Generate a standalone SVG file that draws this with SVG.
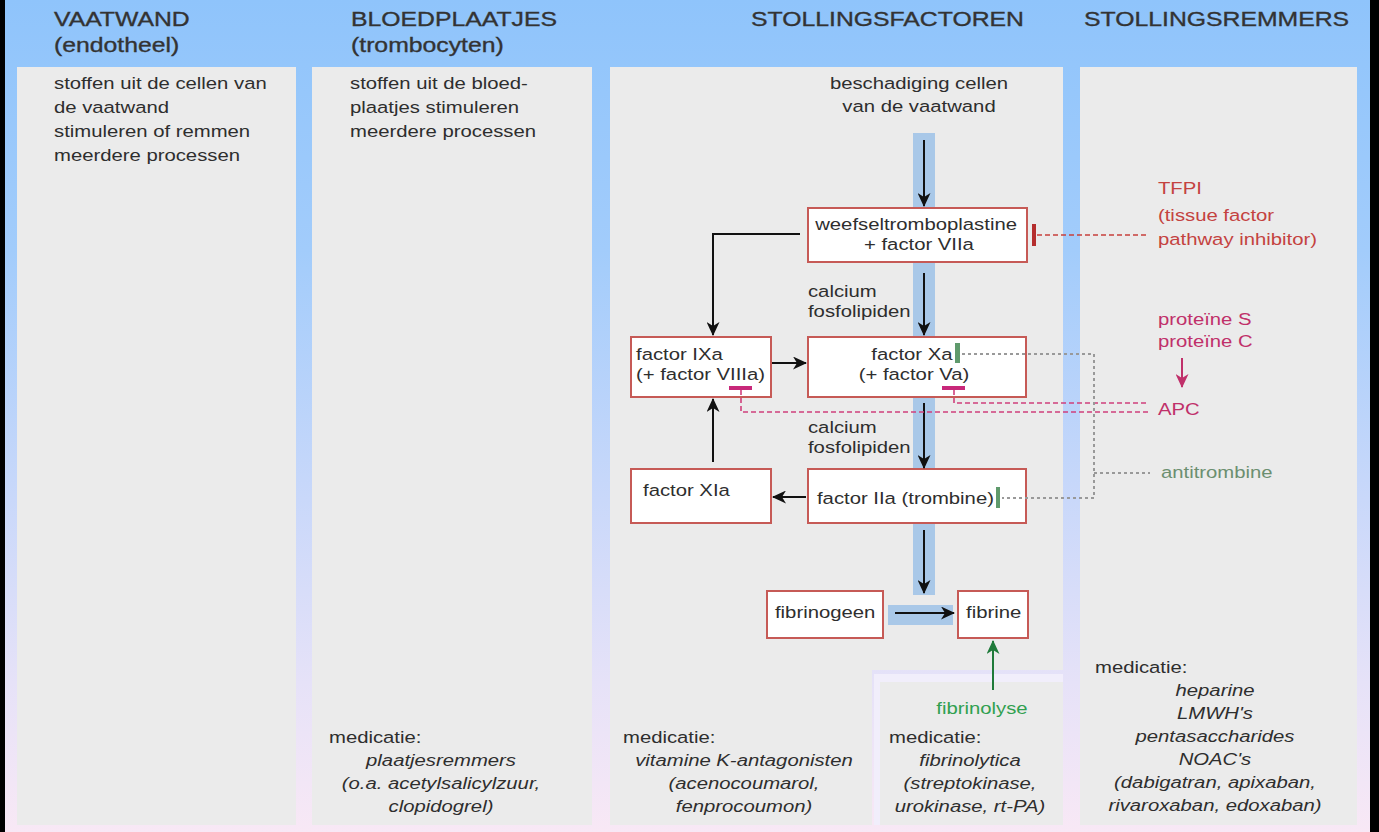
<svg xmlns="http://www.w3.org/2000/svg" width="1379" height="832" viewBox="0 0 1379 832">
<defs>
<linearGradient id="bg" x1="0" y1="0" x2="0" y2="832" gradientUnits="userSpaceOnUse">
<stop offset="0" stop-color="#8fc4fb"/>
<stop offset="0.3" stop-color="#a2ccfb"/>
<stop offset="0.6" stop-color="#c9d8fa"/>
<stop offset="0.82" stop-color="#e6e2f8"/>
<stop offset="1" stop-color="#f8e8f5"/>
</linearGradient>
<marker id="ah" viewBox="0 0 14 13" markerWidth="14" markerHeight="13" refX="13" refY="6.5" orient="auto" markerUnits="userSpaceOnUse">
<path d="M0,0 L14,6.5 L0,13 L4,6.5 Z" fill="#111"/>
</marker>
<marker id="ahg" viewBox="0 0 14 13" markerWidth="14" markerHeight="13" refX="13" refY="6.5" orient="auto" markerUnits="userSpaceOnUse">
<path d="M0,0 L14,6.5 L0,13 L4,6.5 Z" fill="#1f7a3a"/>
</marker>
<marker id="ahm" viewBox="0 0 14 13" markerWidth="14" markerHeight="13" refX="13" refY="6.5" orient="auto" markerUnits="userSpaceOnUse">
<path d="M0,0 L14,6.5 L0,13 L4,6.5 Z" fill="#c0306a"/>
</marker>
</defs>
<style>
.t{font-family:"Liberation Sans",Arial,Helvetica,sans-serif;font-size:17.2px;fill:#2e2e2e;transform-box:fill-box;transform:scaleX(1.18);transform-origin:0% 50%}
.m{text-anchor:middle;transform-origin:50% 50%}
.h{font-size:21px;fill:#333;stroke:#333;stroke-width:0.35px}
.i{font-style:italic}
.red{fill:#c4423f}
.mag{fill:#c0306a}
.grn{fill:#6c8f70}
.fib{fill:#30a050}
.panel{fill:#ebebeb}
.box{fill:#fff;stroke:#c65a56;stroke-width:2}
.strip{fill:#a9c8e8}
.arr{fill:none;stroke:#111;stroke-width:2;marker-end:url(#ah)}
.dred{fill:none;stroke:#c8403c;stroke-width:1.6;stroke-dasharray:5 3}
.dmag{fill:none;stroke:#d0407c;stroke-width:1.6;stroke-dasharray:5 3}
.dgry{fill:none;stroke:#999;stroke-width:2;stroke-dasharray:3 3}
</style>

<rect x="0" y="0" width="1379" height="832" fill="url(#bg)"/>
<rect x="0" y="0" width="5" height="832" fill="#000"/>
<rect x="1370" y="0" width="9" height="832" fill="#000"/>

<g id="panels">
<rect class="panel" x="17" y="67" width="279" height="758"/>
<rect class="panel" x="312" y="67" width="280" height="758"/>
<path class="panel" d="M610,67 H1063 V670 H872 V825 H610 Z"/>
<rect x="874" y="674" width="189" height="151" fill="#f1eefb"/>
<rect class="panel" x="880" y="682" width="183" height="143"/>
<rect class="panel" x="1080" y="67" width="277" height="758"/>
</g>

<g id="headers">
<text class="t h" x="54" y="26">VAATWAND</text>
<text class="t h" x="54" y="52">(endotheel)</text>
<text class="t h" x="351" y="26">BLOEDPLAATJES</text>
<text class="t h" x="351" y="52">(trombocyten)</text>
<text class="t h" x="751" y="26">STOLLINGSFACTOREN</text>
<text class="t h" x="1084" y="26">STOLLINGSREMMERS</text>
</g>

<g id="vaatwand-text">
<text class="t" x="54" y="89">stoffen uit de cellen van</text>
<text class="t" x="54" y="113">de vaatwand</text>
<text class="t" x="54" y="137">stimuleren of remmen</text>
<text class="t" x="54" y="161">meerdere processen</text>
</g>

<g id="bloedplaatjes-text">
<text class="t" x="350" y="89">stoffen uit de bloed-</text>
<text class="t" x="350" y="113">plaatjes stimuleren</text>
<text class="t" x="350" y="137">meerdere processen</text>
<text class="t" x="329" y="743">medicatie:</text>
<text class="t m i" x="441" y="766">plaatjesremmers</text>
<text class="t m i" x="441" y="789">(o.a. acetylsalicylzuur,</text>
<text class="t m i" x="441" y="812">clopidogrel)</text>
</g>

<g id="strips">
<rect class="strip" x="913" y="133" width="22" height="75"/>
<rect class="strip" x="913" y="262" width="22" height="75"/>
<rect class="strip" x="913" y="397" width="22" height="73"/>
<rect class="strip" x="913" y="523" width="22" height="72"/>
<rect class="strip" x="888" y="605" width="65" height="20"/>
</g>

<g id="start-text">
<text class="t m" x="919" y="89">beschadiging cellen</text>
<text class="t m" x="919" y="112">van de vaatwand</text>
</g>

<g id="node-weefsel">
<rect class="box" x="808" y="208" width="219" height="54"/>
<text class="t m" x="916" y="230">weefseltromboplastine</text>
<text class="t m" x="919" y="250">+ factor VIIa</text>
</g>
<g id="node-ixa">
<rect class="box" x="631" y="337" width="140" height="60"/>
<text class="t" x="636" y="360">factor IXa</text>
<text class="t" x="636" y="380">(+ factor VIIIa)</text>
</g>
<g id="node-xa">
<rect class="box" x="808" y="337" width="218" height="60"/>
<text class="t m" x="912" y="360">factor Xa</text>
<text class="t m" x="914" y="380">(+ factor Va)</text>
</g>
<g id="node-xia">
<rect class="box" x="631" y="469" width="140" height="54"/>
<text class="t" x="643" y="496">factor XIa</text>
</g>
<g id="node-iia">
<rect class="box" x="808" y="469" width="218" height="54"/>
<text class="t" x="817" y="504">factor IIa (trombine)</text>
</g>
<g id="node-fibrinogeen">
<rect class="box" x="767" y="591" width="116" height="47"/>
<text class="t" x="775" y="618">fibrinogeen</text>
</g>
<g id="node-fibrine">
<rect class="box" x="958" y="591" width="70" height="47"/>
<text class="t" x="966" y="618">fibrine</text>
</g>

<g id="labels">
<text class="t" x="808" y="297">calcium</text>
<text class="t" x="808" y="317">fosfolipiden</text>
<text class="t" x="808" y="433">calcium</text>
<text class="t" x="808" y="453">fosfolipiden</text>
</g>

<g id="connectors">
<path class="arr" d="M924,140 V206"/>
<path class="arr" d="M924,273 V335"/>
<path class="arr" d="M924,403 V468"/>
<path class="arr" d="M924,530 V593"/>
<path class="arr" d="M895,613 H954"/>
<path class="arr" d="M800,234 H713 V335"/>
<path class="arr" d="M772,363 H806"/>
<path class="arr" d="M713,462 V399"/>
<path class="arr" d="M806,497 H773"/>
<path d="M993,690 V641" fill="none" stroke="#1f7a3a" stroke-width="2" marker-end="url(#ahg)"/>
<path d="M1182,358 V387" fill="none" stroke="#c0306a" stroke-width="2" marker-end="url(#ahm)"/>
<path class="dred" d="M1037,235 H1148"/>
<path class="dmag" d="M954,390 V403 H1148"/>
<path class="dmag" d="M741,390 V412 H1148"/>
<path class="dgry" d="M962,354 H1094 V498 H1002"/>
<path class="dgry" d="M1094,473 H1150"/>
<rect x="1032" y="224" width="4" height="22" fill="#b52e2e"/>
<rect x="955" y="343" width="5" height="20" fill="#5f9a6c"/>
<rect x="996" y="487" width="4" height="21" fill="#5f9a6c"/>
<rect x="729" y="386" width="23" height="4" fill="#c8287a"/>
<rect x="942" y="386" width="23" height="4" fill="#c8287a"/>
</g>

<g id="inhibitors">
<text class="t red" x="1158" y="194">TFPI</text>
<text class="t red" x="1158" y="221">(tissue factor</text>
<text class="t red" x="1158" y="245">pathway inhibitor)</text>
<text class="t mag" x="1158" y="325">proteïne S</text>
<text class="t mag" x="1158" y="347">proteïne C</text>
<text class="t mag" x="1158" y="415">APC</text>
<text class="t grn" x="1161" y="478">antitrombine</text>
</g>

<g id="stolling-medicatie">
<text class="t" x="623" y="743">medicatie:</text>
<text class="t m i" x="744" y="766">vitamine K-antagonisten</text>
<text class="t m i" x="744" y="789">(acenocoumarol,</text>
<text class="t m i" x="744" y="812">fenprocoumon)</text>
</g>

<g id="fibrinolyse">
<text class="t m fib" x="982" y="714">fibrinolyse</text>
<text class="t" x="889" y="743">medicatie:</text>
<text class="t m i" x="970" y="766">fibrinolytica</text>
<text class="t m i" x="970" y="789">(streptokinase,</text>
<text class="t m i" x="970" y="812">urokinase, rt-PA)</text>
</g>

<g id="remmers-medicatie">
<text class="t" x="1095" y="673">medicatie:</text>
<text class="t m i" x="1215" y="696">heparine</text>
<text class="t m i" x="1215" y="719">LMWH's</text>
<text class="t m i" x="1215" y="742">pentasaccharides</text>
<text class="t m i" x="1215" y="765">NOAC's</text>
<text class="t m i" x="1215" y="788">(dabigatran, apixaban,</text>
<text class="t m i" x="1215" y="811">rivaroxaban, edoxaban)</text>
</g>
</svg>
